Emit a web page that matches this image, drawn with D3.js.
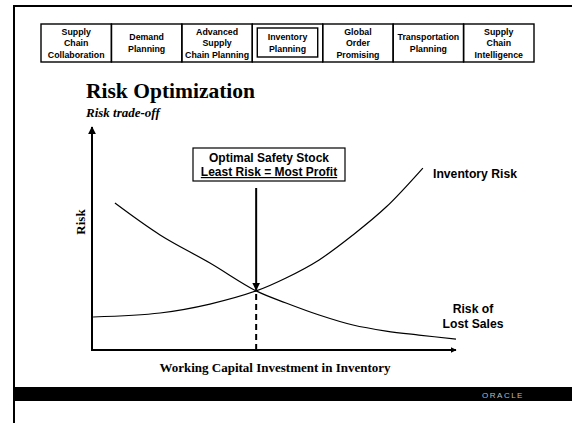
<!DOCTYPE html>
<html><head><meta charset="utf-8">
<script src="https://cdn.jsdelivr.net/npm/d3@7"></script>
<style>body{margin:0;background:#fff}svg{display:block}</style>
</head><body>
<script>
// ---- data ----
const navLabels = [
  ["Supply","Chain","Collaboration"],
  ["Demand","Planning"],
  ["Advanced","Supply","Chain Planning"],
  ["Inventory","Planning"],
  ["Global","Order","Promising"],
  ["Transportation","Planning"],
  ["Supply","Chain","Intelligence"]
];
const activeNav = 3;
const invX = [0.3, 18.7, 32.4, 45.1, 53.3, 62.4, 71.7, 80.8, 90.9];
const invY = [14.8, 16.6, 20.6, 26.5, 32.3, 40.4, 51.6, 64.1, 81.6];
const lostX = [6.3, 18.7, 32.4, 45.1, 53.3, 62.4, 71.7, 80.8, 89.8, 100];
const lostY = [65.9, 51.6, 39.0, 26.5, 21.1, 15.7, 11.2, 8.5, 6.7, 4.9];
const optimumX = 45.1, optimumY = 26.5;
const title = "Risk Optimization", subtitle = "Risk trade-off";
const xLabel = "Working Capital Investment in Inventory", yLabel = "Risk";
const boxLines = ["Optimal Safety Stock", "Least Risk = Most Profit"];
const invLabel = ["Inventory Risk"], lostLabel = ["Risk of", "Lost Sales"];
const footerText = "ORACLE";

const W = 572, H = 425;
const svg = d3.select("body").append("svg").attr("width", W).attr("height", H);
const defs = svg.append("defs");
defs.append("marker").attr("id","ah").attr("viewBox","0 0 10 10").attr("refX",9).attr("refY",5)
  .attr("markerWidth",4).attr("markerHeight",4).attr("orient","auto").attr("markerUnits","strokeWidth")
  .append("path").attr("d","M0,0L10,5L0,10z").attr("fill","#000");
defs.append("marker").attr("id","ah2").attr("viewBox","0 0 10 10").attr("refX",9).attr("refY",5)
  .attr("markerWidth",6).attr("markerHeight",6).attr("orient","auto").attr("markerUnits","userSpaceOnUse")
  .append("path").attr("d","M0,0L10,5L0,10z").attr("fill","#000");

// page frame
svg.append("line").attr("x1",14).attr("x2",W).attr("y1",6).attr("y2",6).attr("stroke","#000").attr("stroke-width",2);
svg.append("line").attr("x1",14).attr("x2",14).attr("y1",5).attr("y2",423).attr("stroke","#000").attr("stroke-width",2);

// nav boxes
const nav = d3.scaleBand().domain(d3.range(navLabels.length)).range([41, 534]);
const navTop = 24, navH = 38;
const g = svg.append("g").attr("font-family","Liberation Sans, Arial, sans-serif").attr("font-weight","bold").attr("font-size","8.8px");
navLabels.forEach((lines, i) => {
  const x0 = nav(i), bw = nav.bandwidth();
  g.append("rect").attr("x",x0).attr("y",navTop).attr("width",bw).attr("height",navH)
    .attr("fill","none").attr("stroke","#000").attr("stroke-width",1.4);
  if (i === activeNav) {
    g.append("rect").attr("x",x0+5).attr("y",navTop+4).attr("width",bw-10).attr("height",navH-9)
      .attr("fill","none").attr("stroke","#000").attr("stroke-width",1.4);
  }
  const lh = 11.5;
  const start = navTop + navH/2 - (lines.length-1)*lh/2 + 3;
  lines.forEach((t, j) => {
    g.append("text").attr("x", x0 + bw/2).attr("y", start + j*lh).attr("text-anchor","middle").text(t);
  });
});

// titles
svg.append("text").attr("x",86).attr("y",98).attr("font-family","Liberation Serif, Times New Roman, serif")
  .attr("font-weight","bold").attr("font-size","21.5px").text(title);
svg.append("text").attr("x",86).attr("y",117).attr("font-family","Liberation Serif, Times New Roman, serif")
  .attr("font-weight","bold").attr("font-style","italic").attr("font-size","13px").text(subtitle);

// chart
const x = d3.scaleLinear().domain([0,100]).range([92,456]);
const y = d3.scaleLinear().domain([0,100]).range([350,127]);

svg.append("line").attr("x1",x(0)).attr("x2",x(0)).attr("y1",y(0)+1).attr("y2",y(100))
  .attr("stroke","#000").attr("stroke-width",2).attr("marker-end","url(#ah)");
svg.append("line").attr("x1",x(0)-1).attr("x2",x(100)).attr("y1",y(0)).attr("y2",y(0))
  .attr("stroke","#000").attr("stroke-width",2).attr("marker-end","url(#ah2)");

const line = d3.line().x(d=>x(d[0])).y(d=>y(d[1])).curve(d3.curveCatmullRom.alpha(0.5));
svg.append("path").attr("d", line(d3.zip(invX, invY))).attr("fill","none").attr("stroke","#000").attr("stroke-width",1.2);
svg.append("path").attr("d", line(d3.zip(lostX, lostY))).attr("fill","none").attr("stroke","#000").attr("stroke-width",1.2);

// optimum arrow and dashed drop line
svg.append("line").attr("x1",x(optimumX)).attr("x2",x(optimumX)).attr("y1",188).attr("y2",y(optimumY)-1)
  .attr("stroke","#000").attr("stroke-width",2).attr("marker-end","url(#ah)");
svg.append("line").attr("x1",x(optimumX)).attr("x2",x(optimumX)).attr("y1",y(optimumY)+3).attr("y2",y(0))
  .attr("stroke","#000").attr("stroke-width",2).attr("stroke-dasharray","6,4");

// annotation box
const bx = 193, by = 148, bwid = 152, bh = 33;
svg.append("rect").attr("x",bx).attr("y",by).attr("width",bwid).attr("height",bh)
  .attr("fill","#fff").attr("stroke","#000").attr("stroke-width",1.2);
const sans = "Liberation Sans, Arial, sans-serif";
svg.append("text").attr("x",bx+bwid/2).attr("y",by+14).attr("text-anchor","middle")
  .attr("font-family",sans).attr("font-weight","bold").attr("font-size","12px").text(boxLines[0]);
svg.append("text").attr("x",bx+bwid/2).attr("y",by+28).attr("text-anchor","middle")
  .attr("font-family",sans).attr("font-weight","bold").attr("font-size","12px")
  .attr("text-decoration","underline").text(boxLines[1]);

// curve labels
svg.append("text").attr("x",433).attr("y",178).attr("font-family",sans).attr("font-weight","bold").attr("font-size","12.2px").text(invLabel[0]);
lostLabel.forEach((t,j)=>{
  svg.append("text").attr("x",473).attr("y",313+j*15).attr("text-anchor","middle")
    .attr("font-family",sans).attr("font-weight","bold").attr("font-size","12.2px").text(t);
});

// axis labels
svg.append("text").attr("x",(x(0)+x(100))/2 + 1).attr("y",372).attr("text-anchor","middle")
  .attr("font-family","Liberation Serif, Times New Roman, serif").attr("font-weight","bold").attr("font-size","13px").text(xLabel);
svg.append("text").attr("transform","translate(85,222) rotate(-90)").attr("text-anchor","middle")
  .attr("font-family","Liberation Serif, Times New Roman, serif").attr("font-weight","bold").attr("font-size","13px").text(yLabel);

// footer bar
svg.append("rect").attr("x",13).attr("y",387).attr("width",W-13).attr("height",14).attr("fill","#000");
svg.append("text").attr("x",503).attr("y",397.5).attr("text-anchor","middle").attr("font-family",sans)
  .attr("font-size","8px").attr("letter-spacing","1.5px").attr("fill","#bbb").text(footerText);
</script>
</body></html>
